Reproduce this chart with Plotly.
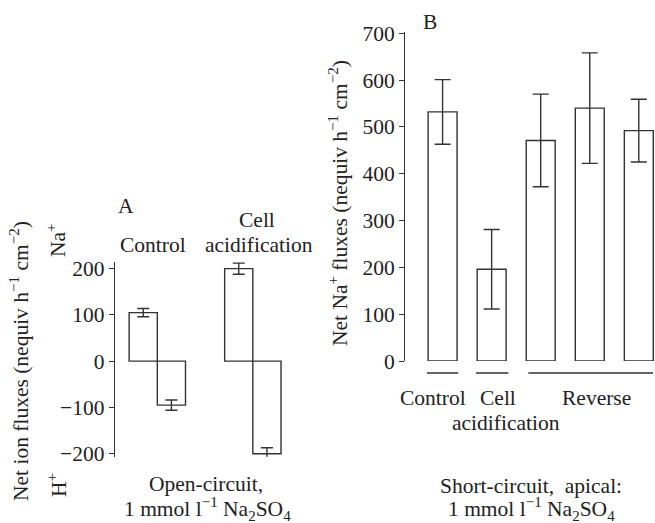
import plotly.graph_objects as go

# ---- Panel A data (open-circuit) ----
a_groups = ["Control", "Cell acidification"]
a_na = [105, 200]
a_na_err = [9, 12]
a_h = [-95, -200]
a_h_err = [11, 13]
a_ticks = [-200, -100, 0, 100, 200]

# ---- Panel B data (short-circuit) ----
b_cats = ["Control", "Cell acidification", "Reverse 1", "Reverse 2", "Reverse 3"]
b_vals = [532, 196, 471, 540, 492]
b_err = [69, 85, 99, 118, 67]
b_ticks = [0, 100, 200, 300, 400, 500, 600, 700]

FONT = "Liberation Serif, Times New Roman, Times, serif"
FS = 21.5
LC = "#333333"
W, H = 655, 523

fig = go.Figure()

bar_style = dict(marker=dict(color="white", line=dict(color=LC, width=1.4)))

fig.add_trace(go.Bar(x=a_groups, y=a_na, name="Na+", xaxis="x", yaxis="y",
                     error_y=dict(type="data", array=a_na_err, color=LC, thickness=1.4, width=6),
                     **bar_style))
fig.add_trace(go.Bar(x=a_groups, y=a_h, name="H+", xaxis="x", yaxis="y",
                     error_y=dict(type="data", array=a_h_err, color=LC, thickness=1.4, width=6),
                     **bar_style))
fig.add_trace(go.Bar(x=b_cats, y=b_vals, name="Na+ B", xaxis="x2", yaxis="y2",
                     error_y=dict(type="data", array=b_err, color=LC, thickness=1.4, width=8),
                     **bar_style))

def px_x(p):
    return p / W

def px_y(p):
    return 1 - p / H

tickfont = dict(family=FONT, size=FS, color="#222")
noax = dict(showticklabels=False, ticks="", showline=False, showgrid=False,
            zeroline=False, automargin=False)

fig.update_layout(
    template="none",
    width=W, height=H, autosize=False,
    margin=dict(l=0, r=0, t=0, b=0, pad=0),
    paper_bgcolor="white", plot_bgcolor="white",
    font=dict(family=FONT, size=FS, color="#222"),
    showlegend=False,
    barmode="group", bargap=0.41, bargroupgap=0,
    xaxis=dict(domain=[px_x(115), px_x(300.6)], range=[-0.443, 1.5], **noax),
    yaxis=dict(domain=[px_y(456.7), px_y(261.7)], range=[-206.5, 215],
               tickvals=a_ticks, ticktext=[str(t).replace("-", "\u2212") for t in a_ticks],
               ticks="outside", ticklen=5, tickwidth=1.4, tickcolor=LC, tickfont=tickfont,
               showline=True, linecolor=LC, linewidth=1.4, showgrid=False, zeroline=False,
               automargin=False),
    xaxis2=dict(domain=[px_x(405.3), 1.0], range=[-0.76, 4.33], anchor="y2", **noax),
    yaxis2=dict(domain=[px_y(361), px_y(32.3)], range=[0, 702], anchor="x2",
                tickvals=b_ticks, ticks="outside", ticklen=5, tickwidth=1.4, tickcolor=LC,
                tickfont=tickfont,
                showline=True, linecolor=LC, linewidth=1.4, showgrid=False, zeroline=False,
                automargin=False),
)

def note(text, x, y, angle=0, size=FS):
    fig.add_annotation(text=text, x=px_x(x), y=px_y(y), xref="paper", yref="paper",
                       showarrow=False, xanchor="center", yanchor="middle", borderpad=0,
                       textangle=angle, font=dict(family=FONT, size=size, color="#222"))

# Panel A texts
note("A", 126, 206)
note("Control", 153, 245)
note("Cell", 257, 220)
note("acidification", 258.5, 245)
note("Na<sup>+</sup>", 57, 240, -90)
note("H<sup>+</sup>", 57, 485, -90)
note("Net ion fluxes (nequiv h<sup>\u22121</sup> cm<sup>\u22122</sup>)", 19, 361, -90)
note("Open-circuit,", 206, 484)
note("1 mmol l<sup>\u22121</sup> Na<sub>2</sub>SO<sub>4</sub>", 207, 508.5)

# Panel B texts
note("B", 430, 22)
note("Net Na<sup>+</sup> fluxes (nequiv h<sup>\u22121</sup> cm<sup>\u22122</sup>)", 338, 203, -90)
note("Control", 433, 398)
note("Cell", 497.5, 398)
note("acidification", 506, 423)
note("Reverse", 596.5, 398)
note("Short-circuit,&nbsp; apical:", 531, 485.5)
note("1 mmol l<sup>\u22121</sup> Na<sub>2</sub>SO<sub>4</sub>", 531.5, 508.5)

# Group underlines in panel B
for x0, x1 in [(-0.32, 0.32), (0.68, 1.34), (1.75, 4.29)]:
    fig.add_shape(type="line", xref="x2", yref="paper", x0=x0, x1=x1,
                  y0=px_y(373), y1=px_y(373), line=dict(color=LC, width=1.4))

fig.write_html("out.html", config={"responsive": False, "displayModeBar": False},
               post_script="document.body.style.margin='0';document.body.style.overflow='hidden';")
